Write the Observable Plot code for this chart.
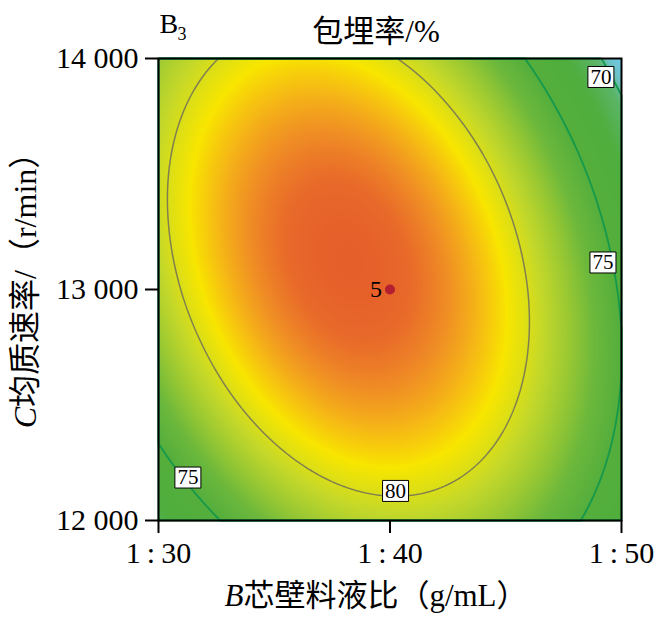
<!DOCTYPE html>
<html><head><meta charset="utf-8">
<script src="https://cdn.jsdelivr.net/npm/d3@7"></script>
<script src="https://cdn.jsdelivr.net/npm/@observablehq/plot@0.6"></script>
<style>body{margin:0;background:#fff;}</style>
</head><body><div id="chart"></div>
<script>
// Factor B: core/wall liquid ratio (1:x), factor C: homogenization speed (r/min)
const ratioB = [30, 32.5, 35, 37.5, 40, 42.5, 45, 47.5, 50];
const speedC = [12000, 12250, 12500, 12750, 13000, 13250, 13500, 13750, 14000];
// encapsulation efficiency (%) read from the surface, one row per speed
const r12000 = [71.67, 74.82, 77.12, 78.56, 79.14, 78.87, 77.74, 75.75, 72.91];
const r12250 = [74.25, 77.23, 79.35, 80.62, 81.03, 80.59, 79.29, 77.13, 74.12];
const r12500 = [76.32, 79.13, 81.08, 82.18, 82.42, 81.80, 80.33, 78.00, 74.82];
const r12750 = [77.89, 80.52, 82.31, 83.23, 83.30, 82.51, 80.87, 78.37, 75.02];
const r13000 = [78.95, 81.42, 83.03, 83.78, 83.68, 82.72, 80.91, 78.24, 74.71];
const r13250 = [79.51, 81.81, 83.25, 83.83, 83.56, 82.43, 80.44, 77.60, 73.90];
const r13500 = [79.57, 81.69, 82.96, 83.37, 82.93, 81.63, 79.47, 76.46, 72.59];
const r13750 = [79.12, 81.07, 82.17, 82.41, 81.80, 80.32, 78.00, 74.81, 70.77];
const r14000 = [78.17, 79.95, 80.88, 80.95, 80.16, 78.52, 76.02, 72.66, 68.45];

const xTicks = [30, 40, 50];
const yTicks = [12000, 13000, 14000];
const levelsGray = [80];
const levelsGreen = [70, 75];
const contourLabels = [
  {level: 70, x: 49.11, y: 13920},
  {level: 75, x: 49.20, y: 13117},
  {level: 75, x: 31.27, y: 12186},
  {level: 80, x: 40.24, y: 12128}
];
const centerPoints = [{x: 40, y: 13000, n: 5}];
const colorStops = [68.4, 69.6, 70.4, 72.5, 75, 76.7, 79.4, 80.9, 81.8, 82.7, 83.5, 83.9];
const colorRange = ["#72c9ee", "#6cc2c4", "#5cb56a", "#4fae3e", "#54ae3c", "#6cb83c", "#c4d82a", "#f8e600", "#f6bc14", "#f09024", "#e8682a", "#e55f2a"];
const title = "包埋率/%";
const xLabel = "B芯壁料液比（g/mL）";
const yLabel = "C均质速率/（r/min）";

const rows = [r12000, r12250, r12500, r12750, r13000, r13250, r13500, r13750, r14000];
const grid = [];
rows.forEach((row, i) => row.forEach((f, j) => grid.push({x: ratioB[j], y: speedC[i], f})));

// smooth (Catmull-Rom) interpolation of the regular sample grid, used by raster and contour
function gridCubic(index, width, height, X, Y, V) {
  const key = v => Math.round(v * 1000) / 1000;
  const xs = Array.from(new Set(Array.from(index, i => key(X[i])))).sort((a, b) => a - b);
  const ys = Array.from(new Set(Array.from(index, i => key(Y[i])))).sort((a, b) => a - b);
  const nx = xs.length, ny = ys.length;
  const M = Array.from({length: ny}, () => new Float64Array(nx));
  for (const i of index) M[ys.indexOf(key(Y[i]))][xs.indexOf(key(X[i]))] = V[i];
  const rowAt = (b, a) => {
    if (a < 0) return 3 * rowAt(b, 0) - 3 * rowAt(b, 1) + rowAt(b, 2);
    if (a > nx - 1) return 3 * rowAt(b, nx - 1) - 3 * rowAt(b, nx - 2) + rowAt(b, nx - 3);
    return M[b][a];
  };
  const at = (b, a) => {
    if (b < 0) return 3 * at(0, a) - 3 * at(1, a) + at(2, a);
    if (b > ny - 1) return 3 * at(ny - 1, a) - 3 * at(ny - 2, a) + at(ny - 3, a);
    return rowAt(b, a);
  };
  const cr = (p0, p1, p2, p3, t) => 0.5 * (2 * p1 + (-p0 + p2) * t + (2 * p0 - 5 * p1 + 4 * p2 - p3) * t * t + (-p0 + 3 * p1 - 3 * p2 + p3) * t * t * t);
  const out = new Float64Array(width * height);
  const sx = (nx - 1) / (xs[nx - 1] - xs[0]), sy = (ny - 1) / (ys[ny - 1] - ys[0]);
  for (let r = 0; r < height; ++r) {
    let gy = (r + 0.5 - ys[0]) * sy;
    gy = Math.max(0, Math.min(ny - 1, gy));
    let b = Math.min(ny - 2, Math.floor(gy)); const ty = gy - b;
    for (let c = 0; c < width; ++c) {
      let gx = (c + 0.5 - xs[0]) * sx;
      gx = Math.max(0, Math.min(nx - 1, gx));
      let a = Math.min(nx - 2, Math.floor(gx)); const tx = gx - a;
      const col = [];
      for (let k = -1; k <= 2; ++k) col.push(cr(at(b + k, a - 1), at(b + k, a), at(b + k, a + 1), at(b + k, a + 2), tx));
      out[r * width + c] = cr(col[0], col[1], col[2], col[3], ty);
    }
  }
  return out;
}

const font = "'Liberation Serif', 'Times New Roman', 'Noto Sans CJK SC', serif";
const box = {draw(ctx) { ctx.rect(-13, -10.5, 26, 21); }};
const ext = {x1: ratioB[0], x2: ratioB[ratioB.length - 1], y1: speedC[0], y2: speedC[speedC.length - 1]};

const plot = Plot.plot({
  width: 660, height: 617,
  marginLeft: 158, marginRight: 39, marginTop: 58, marginBottom: 97,
  style: {fontFamily: font, fontSize: "30px", color: "#000", background: "#fff"},
  x: {domain: [30, 50]},
  y: {domain: [12000, 14000]},
  color: {type: "linear", domain: colorStops, range: colorRange, interpolate: "rgb", clamp: true},
  marks: [
    Plot.raster(grid, {x: "x", y: "y", fill: "f", interpolate: gridCubic, pixelSize: 1, ...ext}),
    Plot.contour(grid, {x: "x", y: "y", value: "f", thresholds: levelsGray, interpolate: gridCubic, pixelSize: 1, ...ext, fill: "none", stroke: "#80804f", strokeWidth: 1.5}),
    Plot.contour(grid, {x: "x", y: "y", value: "f", thresholds: levelsGreen, interpolate: gridCubic, pixelSize: 1, ...ext, fill: "none", stroke: "#14994c", strokeWidth: 1.8}),
    Plot.dot(contourLabels, {x: "x", y: "y", symbol: box, r: 5, fill: "white", stroke: "black", strokeWidth: 1}),
    Plot.text(contourLabels, {x: "x", y: "y", text: d => String(d.level), fontSize: 21}),
    Plot.dot(centerPoints, {x: "x", y: "y", r: 5, fill: "#b31f2e"}),
    Plot.text(centerPoints, {x: "x", y: "y", text: d => String(d.n), dx: -14, fontSize: 24}),
    Plot.frame({stroke: "#000", strokeWidth: 2}),
    Plot.axisX({ticks: xTicks, tickFormat: d => `1\u2009:\u2009${d}`, tickSize: 13, tickPadding: 8, fontSize: 30, strokeWidth: 2, label: null}),
    Plot.axisY({ticks: yTicks, tickFormat: d => `${Math.floor(d / 1000)} ${String(d % 1000).padStart(3, "0")}`, tickSize: 13, tickPadding: 7, fontSize: 30, strokeWidth: 2, label: null}),
    Plot.text([title], {text: d => d, frameAnchor: "top", lineAnchor: "middle", dx: -14, dy: -26, fontSize: 31}),
    Plot.text(["B"], {text: d => d, frameAnchor: "top-left", textAnchor: "start", lineAnchor: "middle", dx: 1, dy: -34, fontSize: 28}),
    Plot.text(["3"], {text: d => d, frameAnchor: "top-left", textAnchor: "start", lineAnchor: "middle", dx: 19, dy: -24, fontSize: 18}),
    Plot.text([xLabel], {text: d => d, frameAnchor: "bottom", textAnchor: "middle", lineAnchor: "middle", dx: -14, dy: 76, fontSize: 31}),
    Plot.text([yLabel], {text: d => d, frameAnchor: "left", textAnchor: "middle", lineAnchor: "middle", rotate: -90, dx: -133, dy: -7, fontSize: 32})
  ]
});
document.getElementById("chart").appendChild(plot);

// italic factor letters in axis titles
d3.select(plot).selectAll("text").each(function() {
  const t = this.textContent;
  if (t === xLabel || t === yLabel) {
    const sel = d3.select(this);
    sel.text(null);
    sel.append("tspan").attr("font-style", "italic").text(t[0]);
    sel.append("tspan").text(t.slice(1));
  }
});
</script>
</body></html>
